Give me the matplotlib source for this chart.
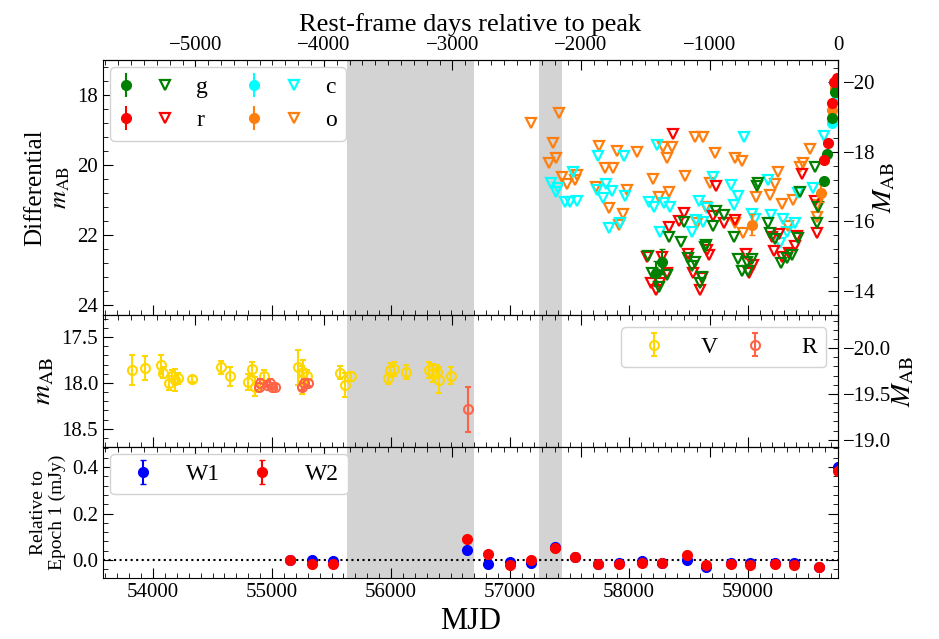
import matplotlib.pyplot as plt
from matplotlib.ticker import AutoMinorLocator, MultipleLocator, NullFormatter
from matplotlib.legend_handler import HandlerTuple
from matplotlib.lines import Line2D

plt.rcParams['font.family'] = ['Liberation Serif', 'DejaVu Serif']
plt.rcParams['mathtext.fontset'] = 'stix'
plt.rcParams['font.size'] = 15

# peak / redshift / distance modulus
peak = 59756
z = 0.08
mu = 37.62
gaps = [(55630, 56697), (57244, 57437)]

# ---- optical upper limits (MJD, mag) ----
g_lim_t = [58462, 58336, 58436, 58705, 58731, 58647, 58159, 58193, 58319, 58252, 58495, 58554, 58529, 58613,
           58596, 58798, 59083, 59075, 59168, 59184, 59226, 59420, 59436, 59563, 59588, 59580, 58915, 58949,
           58991, 59033, 58999, 59277, 59327, 59369, 58638, 58882]
g_lim_m = [21.63, 22.06, 22.20, 21.74, 21.31, 22.29, 22.60, 23.09, 23.14, 23.49, 22.66, 22.77, 22.91, 23.20,
           23.37, 21.43, 20.51, 20.60, 21.66, 21.94, 22.11, 22.09, 20.77, 20.06, 21.20, 21.66, 22.71, 23.03,
           22.77, 22.71, 23.03, 22.80, 22.66, 22.57, 22.34, 22.06]

r_lim_t = [58369, 58462, 58420, 58336, 58731, 58705, 58655, 58672, 58151, 58184, 58226, 58260, 58495, 58537,
           58596, 58613, 58798, 58890, 59201, 59218, 59260, 59411, 59394, 59285, 59344, 58983, 59008, 59041,
           59453, 59563, 59580, 58277, 58319]
r_lim_m = [19.11, 21.37, 21.60, 21.77, 20.60, 21.46, 22.43, 22.57, 22.63, 23.37, 23.57, 23.37, 22.54, 23.09,
           23.57, 23.23, 21.66, 21.57, 22.06, 22.46, 21.97, 22.03, 22.31, 22.63, 22.51, 22.54, 23.09, 22.86,
           20.26, 21.03, 21.94, 22.63, 23.09]

c_lim_t = [57529, 57344, 57403, 57386, 57462, 57504, 57563, 57739, 57957, 57806, 57857, 57731, 57781, 57966,
           57831, 57924, 58235, 58168, 58210, 58294, 58344, 58260, 58529, 58588, 58705, 58655, 58563, 58621,
           58966, 58857, 58915, 58882, 59033, 59058, 59168, 59193, 59293, 59394, 59327, 59268, 59420, 59546,
           59638]
c_lim_m = [20.20, 20.51, 20.66, 20.77, 21.06, 21.06, 21.03, 19.74, 19.74, 20.54, 20.74, 20.71, 20.94, 20.89,
           21.80, 21.66, 19.43, 21.06, 21.20, 21.09, 21.20, 21.91, 21.91, 21.03, 20.34, 21.23, 21.57, 21.63,
           19.20, 20.57, 20.89, 21.14, 21.40, 21.54, 20.43, 21.43, 21.54, 21.66, 21.91, 22.23, 20.80, 20.66,
           19.17]

o_lim_t = [57176, 57411, 57361, 57386, 57327, 57436, 57479, 57546, 57563, 57747, 57899, 58067, 57798, 57865,
           57722, 57983, 57831, 57949, 57915, 58285, 58361, 58319, 58554, 58621, 58722, 58201, 58470, 58336,
           58252, 58680, 58647, 58571, 58890, 58949, 59252, 59520, 59462, 59436, 59067, 59184, 59226, 59285,
           59378, 58890, 58957, 59335, 59580, 59580]
o_lim_m = [18.80, 18.51, 19.37, 19.80, 19.94, 20.34, 20.54, 20.43, 20.29, 19.46, 19.60, 19.63, 20.09, 20.09,
           20.63, 20.71, 21.23, 21.40, 21.71, 19.49, 19.49, 19.80, 19.20, 19.20, 19.66, 20.40, 20.31, 20.77,
           20.91, 20.51, 21.20, 21.66, 19.80, 19.89, 20.20, 19.54, 19.94, 20.06, 20.91, 20.86, 20.54, 21.11,
           21.00, 21.66, 21.94, 21.74, 21.49, 21.14]

# ---- optical detections (MJD, mag, err) ----
g_det_t = [58277, 58226, 59638, 59663, 59705, 59731, 59747]
g_det_m = [22.77, 23.11, 20.46, 19.69, 18.66, 17.91, 17.77]
g_det_e = [0.35, 0.35, 0.05, 0.04, 0.03, 0.03, 0.03]

r_det_t = [59638, 59672, 59705, 59722, 59747]
r_det_m = [19.86, 19.37, 18.23, 17.63, 17.51]
r_det_e = [0.05, 0.04, 0.03, 0.03, 0.03]

c_det_t = [59705, 59747]
c_det_m = [18.80, 18.10]
c_det_e = [0.03, 0.03]

o_det_t = [59033, 59613, 59705, 59731]
o_det_m = [21.71, 20.80, 18.43, 17.80]
o_det_e = [0.30, 0.25, 0.03, 0.03]

# ---- archival V and R (MJD, mag, err) ----
V_t = [53823, 53932, 54067, 54084, 54134, 54159, 54185, 54210, 54327, 54571, 54647, 54832, 54798, 54857,
       54932, 55218, 55252, 55260, 55294, 55571, 55613, 55663, 55974, 55991, 56025, 56126, 56319, 56352,
       56386, 56403, 56504]
V_m = [17.86, 17.84, 17.80, 17.89, 18.00, 17.92, 17.97, 17.95, 17.96, 17.83, 17.93, 17.85, 17.99, 18.04,
       17.93, 17.83, 17.97, 17.88, 17.92, 17.89, 18.02, 17.93, 17.95, 17.86, 17.85, 17.88, 17.86, 17.89,
       17.88, 17.97, 17.92]
V_e = [0.16, 0.13, 0.10, 0.06, 0.08, 0.06, 0.12, 0.06, 0.03, 0.07, 0.10, 0.08, 0.09, 0.10,
       0.07, 0.19, 0.15, 0.13, 0.06, 0.07, 0.13, 0.05, 0.06, 0.08, 0.08, 0.08, 0.09, 0.10,
       0.07, 0.14, 0.09]

R_t = [54890, 54899, 54958, 54983, 55000, 55025, 55252, 55269, 55302, 56647]
R_m = [18.04, 18.00, 18.02, 18.00, 18.04, 18.04, 18.04, 18.00, 18.00, 18.29]
R_e = [0.04, 0.04, 0.03, 0.04, 0.03, 0.03, 0.04, 0.04, 0.03, 0.25]

# ---- WISE relative flux (mJy) ----
wise_t = [55155, 55334, 55514, 56635, 56815, 57003, 57175, 57375, 57543, 57743, 57915, 58107, 58275, 58483,
          58643, 58855, 59015, 59227, 59387, 59595, 59755]
W1 = [0.0, 0.0, -0.004, 0.043, -0.019, -0.007, -0.011, 0.054, 0.014, -0.017, -0.011, -0.004, -0.011, 0.0,
      -0.029, -0.014, -0.014, -0.011, -0.011, -0.029, 0.40]
W2 = [0.0, -0.019, -0.019, 0.089, 0.024, -0.021, 0.0, 0.05, 0.014, -0.017, -0.017, -0.011, -0.014, 0.02,
      -0.023, -0.017, -0.021, -0.017, -0.021, -0.029, 0.383]
W_e = [0.005] * len(wise_t)

colors = {'g': 'green', 'r': 'red', 'c': 'cyan', 'o': '#ff7f0e'}


def to_rest(t):
    return (t - peak) / (1 + z)


def to_mjd(d):
    return d * (1 + z) + peak


fig, (ax1, ax2, ax3) = plt.subplots(3, 1, figsize=(9.39, 6.39), dpi=100, sharex=True,
                                    gridspec_kw={'height_ratios': [255, 132, 131], 'hspace': 0})
fig.subplots_adjust(left=0.1097, right=0.8925, top=0.906, bottom=0.0955)

for ax in (ax1, ax2, ax3):
    for a, b in gaps:
        ax.axvspan(a, b, color='lightgray', lw=0, zorder=0)

# top panel
lims = {'g': (g_lim_t, g_lim_m), 'r': (r_lim_t, r_lim_m), 'c': (c_lim_t, c_lim_m), 'o': (o_lim_t, o_lim_m)}
dets = {'g': (g_det_t, g_det_m, g_det_e), 'r': (r_det_t, r_det_m, r_det_e),
        'c': (c_det_t, c_det_m, c_det_e), 'o': (o_det_t, o_det_m, o_det_e)}
for band in ['o', 'c', 'r', 'g']:
    col = colors[band]
    t, m = lims[band]
    ax1.plot(t, m, 'v', ms=7, mfc='none', mec=col, mew=1.6, ls='none')
for band in ['o', 'c', 'g', 'r']:
    col = colors[band]
    t, m, e = dets[band]
    ax1.errorbar(t, m, yerr=e, fmt='o', color=col, ms=7, capsize=2, elinewidth=1.5)

handles = []
for band in ['g', 'r', 'c', 'o']:
    col = colors[band]
    eb = ax1.errorbar([], [], yerr=[], fmt='o', color=col, ms=7, capsize=2, elinewidth=1.5)
    tri = Line2D([], [], marker='v', ls='none', ms=7, mfc='none', mec=col, mew=1.6)
    handles.append((eb, tri))
ax1.legend(handles, ['g', 'r', 'c', 'o'], ncol=2, loc='upper left', fontsize=17, borderaxespad=0.3,
           handler_map={tuple: HandlerTuple(ndivide=None, pad=1.15)}, handlelength=2.2,
           handletextpad=1.05, columnspacing=1.7, fancybox=True, framealpha=1, edgecolor='lightgray')

ax1.set_ylim(24.3, 17.0)
ax1.set_ylabel('Differential\n$m_{\\rm AB}$', fontsize=18)
ax1.yaxis.set_major_locator(MultipleLocator(2))
ax1.yaxis.set_minor_locator(AutoMinorLocator(5))
sec1 = ax1.secondary_yaxis('right', functions=(lambda m: m - mu, lambda M: M + mu))
sec1.set_ylabel('$M_{\\rm AB}$', fontsize=20, labelpad=-3)
sec1.yaxis.set_major_locator(MultipleLocator(2))
sec1.yaxis.set_minor_locator(AutoMinorLocator(5))

# middle panel
ax2.errorbar(V_t, V_m, yerr=V_e, fmt='o', color='gold', mfc='none', ms=6.5, mew=1.5, capsize=2,
             elinewidth=1.5, label='V')
ax2.errorbar(R_t, R_m, yerr=R_e, fmt='o', color='tomato', mfc='none', ms=6.5, mew=1.5, capsize=2,
             elinewidth=1.5, label='R')
ax2.set_ylim(18.70, 17.26)
ax2.set_ylabel('$m_{\\rm AB}$', fontsize=20)
ax2.yaxis.set_major_locator(MultipleLocator(0.5))
ax2.yaxis.set_minor_locator(AutoMinorLocator(5))
sec2 = ax2.secondary_yaxis('right', functions=(lambda m: m - mu, lambda M: M + mu))
sec2.set_ylabel('$M_{\\rm AB}$', fontsize=20, labelpad=0)
sec2.yaxis.set_major_locator(MultipleLocator(0.5))
sec2.yaxis.set_minor_locator(AutoMinorLocator(5))
ax2.legend(ncol=2, loc='upper right', fontsize=17, handletextpad=0.95, columnspacing=0.6,
           fancybox=True, framealpha=1, edgecolor='lightgray')

# bottom panel
ax3.axhline(0, color='black', ls=':', lw=1.5, zorder=1)
ax3.errorbar(wise_t, W1, yerr=W_e, fmt='o', color='blue', ms=7, capsize=2, label='W1')
ax3.errorbar(wise_t, W2, yerr=W_e, fmt='o', color='red', ms=7, capsize=2, label='W2')
ax3.set_ylim(-0.077, 0.486)
ax3.set_ylabel('Relative to\nEpoch 1 (mJy)', fontsize=14)
ax3.yaxis.set_major_locator(MultipleLocator(0.2))
ax3.yaxis.set_minor_locator(AutoMinorLocator(5))
ax3.legend(ncol=2, loc='upper left', fontsize=17, borderaxespad=0.3, handletextpad=0.8, columnspacing=0.8,
           fancybox=True, framealpha=1, edgecolor='lightgray')

ax3.set_xlim(53580, peak)
ax3.xaxis.set_major_locator(MultipleLocator(1000))
ax3.xaxis.set_minor_locator(AutoMinorLocator(10))
ax3.set_xlabel('MJD', fontsize=22)

# rest-frame ticks along the top of every panel, labelled only on the first
tops = []
for ax in (ax1, ax2, ax3):
    tx = ax.secondary_xaxis('top', functions=(to_rest, to_mjd))
    tx.xaxis.set_major_locator(MultipleLocator(1000))
    tx.xaxis.set_minor_locator(AutoMinorLocator(10))
    if ax is not ax1:
        tx.xaxis.set_major_formatter(NullFormatter())
    tops.append(tx)
tops[0].set_xlabel('Rest-frame days relative to peak', fontsize=19)

for ax in (ax1, ax2, ax3):
    ax.tick_params(which='both', direction='in', top=False, labelsize=15)
    ax.tick_params(which='major', length=7)
    ax.tick_params(which='minor', length=3.5)
for s in [sec1, sec2] + tops:
    s.tick_params(which='both', direction='in', labelsize=15)
    s.tick_params(which='major', length=7)
    s.tick_params(which='minor', length=3.5)
ax3.tick_params(right=True, which='both')

fig.savefig('out.png', dpi=100)
